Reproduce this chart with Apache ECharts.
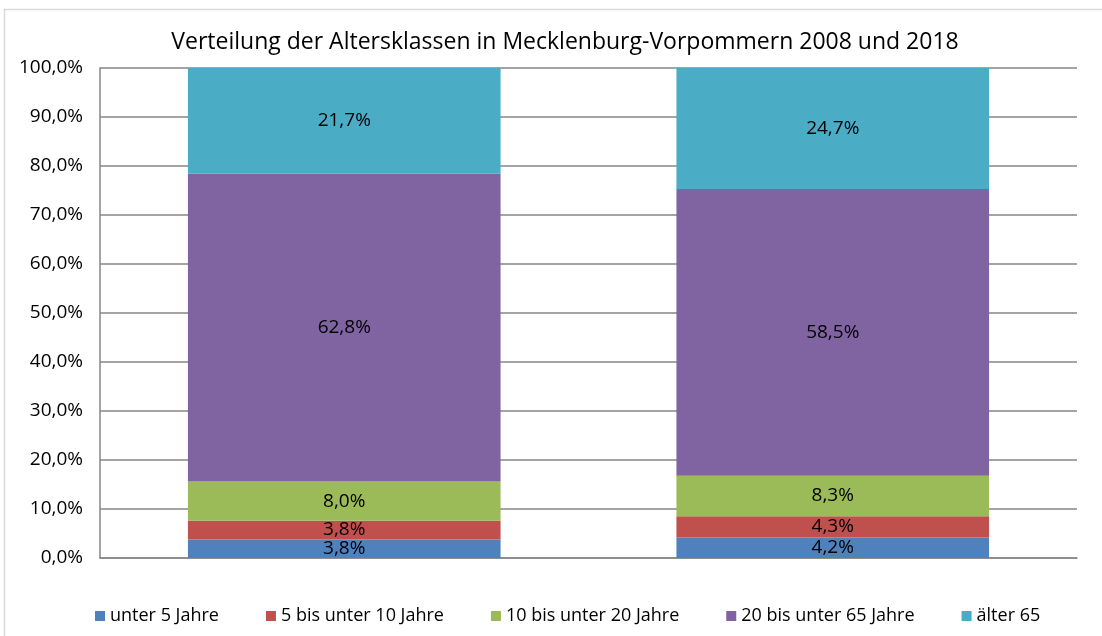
<!DOCTYPE html>
<html>
<head>
<meta charset="utf-8">
<script src="https://cdn.jsdelivr.net/npm/echarts@6/dist/echarts.min.js"></script>
<style>
html,body{margin:0;padding:0;background:#fff;}
#chart{width:1102px;height:636px;}
</style>
</head>
<body>
<div id="chart"></div>
<script>
const categories = ['2008', '2018'];
const seriesNames = ['unter 5 Jahre', '5 bis unter 10 Jahre', '10 bis unter 20 Jahre', '20 bis unter 65 Jahre', 'älter 65'];
const unter5 = [3.8, 4.2];
const bis10 = [3.8, 4.3];
const bis20 = [8.0, 8.3];
const bis65 = [62.8, 58.5];
const aelter65 = [21.7, 24.7];
const colors = ['#4F81BD', '#C0504D', '#9BBB59', '#8064A2', '#4BACC6'];
const values = [unter5, bis10, bis20, bis65, aelter65];

const fmt = v => v.toFixed(1).replace('.', ',') + '%';
const font = 'Open Sans';

const chart = echarts.init(document.getElementById('chart'));
chart.setOption({
  animation: false,
  color: colors,
  graphic: [{
    type: 'rect', silent: true, z: -10,
    shape: {x: 4.5, y: 9.5, width: 1200, height: 700},
    style: {fill: 'none', stroke: '#d9d9d9', lineWidth: 1.5}
  }],
  title: {
    text: 'Verteilung der Altersklassen in Mecklenburg-Vorpommern 2008 und 2018',
    left: 560, textAlign: 'center', top: 26,
    textStyle: {fontFamily: font, fontSize: 23, fontWeight: 'normal', color: '#000'}
  },
  legend: {
    bottom: 6, left: 90,
    itemWidth: 10, itemHeight: 10, itemGap: 47, icon: 'rect',
    textStyle: {fontFamily: font, fontSize: 18, color: '#000'},
    data: seriesNames
  },
  grid: {left: 100, right: 25, top: 68, bottom: 78},
  xAxis: {
    type: 'category', data: categories,
    axisLine: {lineStyle: {color: '#868686', width: 1.5}},
    axisTick: {show: false},
    axisLabel: {show: false}
  },
  yAxis: {
    type: 'value', min: 0, max: 100, interval: 10,
    axisLine: {show: true, lineStyle: {color: '#868686', width: 1.5}},
    axisTick: {show: false},
    splitLine: {lineStyle: {color: '#868686', width: 1.5}},
    axisLabel: {fontFamily: font, fontSize: 19, color: '#000', margin: 17,
      formatter: v => v.toFixed(1).replace('.', ',') + '%'}
  },
  series: seriesNames.map((n, i) => ({
    name: n, type: 'bar', stack: 'total', barWidth: '64%',
    data: values[i],
    label: {show: true, position: 'inside', fontFamily: font, fontSize: 19, color: '#000',
      formatter: p => fmt(p.value)}
  }))
});
</script>
</body>
</html>
